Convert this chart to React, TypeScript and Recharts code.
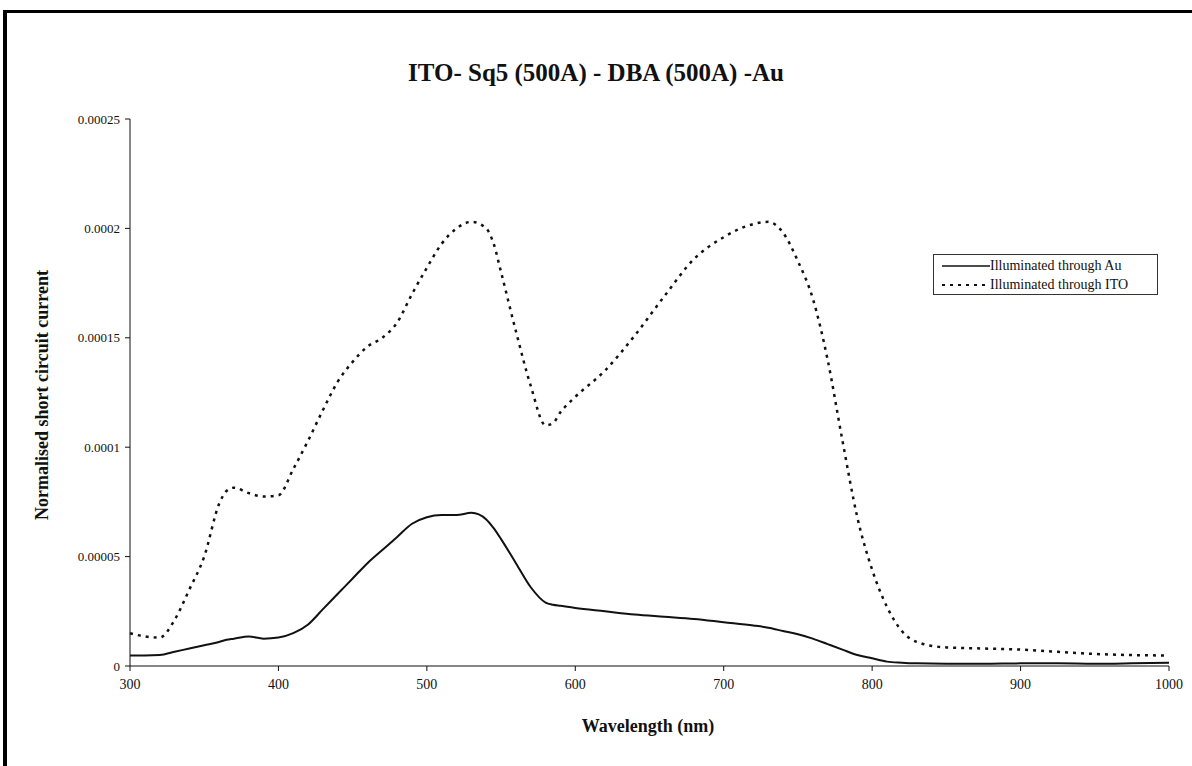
import React from 'react';
import { LineChart, Line, XAxis, YAxis } from 'recharts';

const WAVELENGTHS = [
  300, 310, 320, 330, 340, 350, 360, 365, 370, 380, 390, 400, 410, 420, 430, 440, 450, 460, 470, 480,
  490, 500, 510, 520, 530, 540, 545, 550, 560, 570, 580, 585, 590, 600, 620, 640, 660, 680, 700, 720,
  730, 740, 750, 760, 770, 780, 790, 800, 810, 820, 830, 850, 875, 900, 925, 950, 975, 1000,
];

// illuminated through ITO (dotted)
const ITO = [
  0.000015, 0.0000135, 0.000013, 0.000021, 0.000035, 0.00005, 0.000074, 0.00008, 0.0000815, 0.000079,
  0.0000775, 0.000078, 0.00009, 0.000103, 0.000117, 0.00013, 0.000139, 0.000146, 0.00015, 0.000157,
  0.00017, 0.000182, 0.000193, 0.0002, 0.000203, 0.0002, 0.000193, 0.00018, 0.000153, 0.000128,
  0.00011, 0.000111, 0.000116, 0.000123, 0.000135, 0.000151, 0.000169, 0.000186, 0.000196, 0.000202,
  0.000203, 0.000198, 0.000185, 0.000168, 0.00014, 0.000103, 0.000068, 0.000044, 0.000027, 0.000016,
  0.000011, 0.0000085, 0.000008, 0.0000075, 0.0000065, 0.0000055, 0.000005, 0.0000048,
];

// illuminated through Au (solid)
const AU = [
  0.0000048, 0.0000048, 0.000005, 0.0000065, 0.000008, 0.0000095, 0.000011, 0.000012, 0.0000125, 0.0000135,
  0.0000125, 0.000013, 0.000015, 0.000019, 0.000026, 0.000033, 0.00004, 0.000047, 0.000053, 0.000059,
  0.000065, 0.000068, 0.000069, 0.000069, 0.00007, 0.000067, 0.000063, 0.000058, 0.000047, 0.000036,
  0.000029, 0.000028, 0.0000275, 0.0000265, 0.000025, 0.0000235, 0.0000225, 0.0000215, 0.00002, 0.0000185,
  0.0000175, 0.000016, 0.0000145, 0.0000125, 0.00001, 0.0000075, 0.000005, 0.0000035, 0.000002, 0.0000015,
  0.0000012, 0.000001, 0.000001, 0.0000012, 0.0000012, 0.000001, 0.0000012, 0.0000015,
];

const X_TICKS = [300, 400, 500, 600, 700, 800, 900, 1000];
const Y_TICKS = [0, 0.00005, 0.0001, 0.00015, 0.0002, 0.00025];
const Y_TICK_LABELS = ['0', '0.00005', '0.0001', '0.00015', '0.0002', '0.00025'];

const data = WAVELENGTHS.map((wl, i) => ({ wl, au: AU[i], ito: ITO[i] }));

const FONT = '"Liberation Serif", "Times New Roman", serif';

function LegendBox() {
  return (
    <div
      style={{
        position: 'absolute',
        left: 933,
        top: 254,
        width: 225,
        height: 41,
        boxSizing: 'border-box',
        border: '1px solid #333',
        background: '#fff',
        padding: '1px 4px',
        fontFamily: FONT,
        fontSize: 14,
        color: '#111',
        lineHeight: '19px',
      }}
    >
      <div style={{ display: 'flex', alignItems: 'center', whiteSpace: 'nowrap' }}>
        <svg width={52} height={6}>
          <line x1={4} y1={3} x2={52} y2={3} stroke="#111" strokeWidth={1.5} />
        </svg>
        <span>Illuminated through Au</span>
      </div>
      <div style={{ display: 'flex', alignItems: 'center', whiteSpace: 'nowrap' }}>
        <svg width={52} height={6}>
          <line x1={4} y1={3} x2={52} y2={3} stroke="#111" strokeWidth={2} strokeDasharray="3 5" />
        </svg>
        <span>Illuminated through ITO</span>
      </div>
    </div>
  );
}

export default function App() {
  return (
    <div style={{ position: 'absolute', left: 0, top: 0, width: 1192, height: 766, background: '#fff', overflow: 'hidden' }}>
      {/* outer frame */}
      <div
        style={{
          position: 'absolute',
          left: 3,
          top: 10,
          width: 1300,
          height: 900,
          borderLeft: '4px solid #000',
          borderTop: '3px solid #000',
        }}
      />
      <div
        style={{
          position: 'absolute',
          left: 0,
          top: 59,
          width: 1192,
          textAlign: 'center',
          fontFamily: FONT,
          fontWeight: 'bold',
          fontSize: 25,
          color: '#111',
        }}
      >
        ITO- Sq5 (500A) - DBA (500A) -Au
      </div>
      <div
        style={{
          position: 'absolute',
          left: 42,
          top: 395,
          transform: 'translate(-50%, -50%) rotate(-90deg)',
          whiteSpace: 'nowrap',
          fontFamily: FONT,
          fontWeight: 'bold',
          fontSize: 18,
          color: '#111',
        }}
      >
        Normalised short circuit current
      </div>
      <div
        style={{
          position: 'absolute',
          left: 0,
          top: 716,
          width: 1296,
          textAlign: 'center',
          fontFamily: FONT,
          fontWeight: 'bold',
          fontSize: 18,
          color: '#111',
        }}
      >
        Wavelength (nm)
      </div>
      <div style={{ position: 'absolute', left: 0, top: 0 }}>
        <LineChart width={1192} height={766} data={data} margin={{ top: 119, right: 23, bottom: 60, left: 62 }}>
          <XAxis
            dataKey="wl"
            type="number"
            domain={[300, 1000]}
            ticks={X_TICKS}
            height={40}
            stroke="#111"
            tickSize={5}
            tick={{ fill: '#111', fontSize: 14, fontFamily: FONT }}
            tickMargin={8}
          />
          <YAxis
            type="number"
            domain={[0, 0.00025]}
            ticks={Y_TICKS}
            tickFormatter={(v: number) => Y_TICK_LABELS[Y_TICKS.indexOf(v)] ?? String(v)}
            width={68}
            stroke="#111"
            tickSize={5}
            tick={{ fill: '#111', fontSize: 13, fontFamily: FONT }}
            tickMargin={5}
          />
          <Line
            type="monotone"
            dataKey="au"
            name="Illuminated through Au"
            stroke="#111"
            strokeWidth={2}
            dot={false}
            isAnimationActive={false}
          />
          <Line
            type="monotone"
            dataKey="ito"
            name="Illuminated through ITO"
            stroke="#111"
            strokeWidth={2.5}
            strokeDasharray="3 5"
            dot={false}
            isAnimationActive={false}
          />
        </LineChart>
      </div>
      <LegendBox />
    </div>
  );
}
